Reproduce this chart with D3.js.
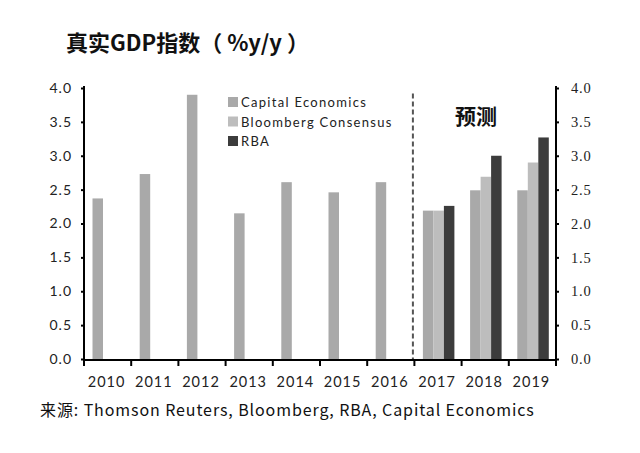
<!DOCTYPE html>
<html><head><meta charset="utf-8">
<script src="https://cdn.jsdelivr.net/npm/d3@7"></script>
<style>body{margin:0;background:#fff}</style>
</head><body>
<svg id="c" width="640" height="453"></svg>
<script>
const years = ["2010","2011","2012","2013","2014","2015","2016","2017","2018","2019"];
const seriesNames = ["Capital Economics","Bloomberg Consensus","RBA"];
const capitalEconomics = [2.37,2.73,3.9,2.15,2.61,2.46,2.61,2.19,2.49,2.49];
const bloomberg = [null,null,null,null,null,null,null,2.19,2.69,2.9];
const rba = [null,null,null,null,null,null,null,2.26,3.0,3.27];
const yTicks = [0,0.5,1,1.5,2,2.5,3,3.5,4];
const colors = ["#a9a9a9","#bdbdbd","#3c3c3c"];

const svg = d3.select("#c");
const L = 84, R = 556, T = 88, B = 359;
const x0 = d3.scaleBand().domain(years).range([L, R]).padding(0);
const x1 = d3.scaleBand().domain([0,1,2]).range([8.5, 40]).padding(0);
const y = d3.scaleLinear().domain([0,4]).range([B, T]);
const sans = "Lato, 'Open Sans', sans-serif";

const data = [capitalEconomics, bloomberg, rba];
years.forEach((yr, i) => {
  data.forEach((s, k) => {
    const v = s[i];
    if (v == null) return;
    svg.append("rect")
      .attr("x", x0(yr) + x1(k)).attr("width", x1.bandwidth())
      .attr("y", y(v)).attr("height", y(0) - y(v))
      .attr("fill", colors[k]);
  });
});

// dashed forecast line
svg.append("line").attr("x1", x0("2017") - 1.5).attr("x2", x0("2017") - 1.5)
  .attr("y1", y(3.92)).attr("y2", y(0))
  .attr("stroke", "#555").attr("stroke-width", 2).attr("stroke-dasharray", "5,3");

// axes
const leftAxis = d3.axisLeft(y).tickValues(yTicks).tickFormat(d3.format(".1f")).tickSize(3).tickPadding(9);
const gl = svg.append("g").attr("transform", `translate(${L},0)`).call(leftAxis);
gl.select(".domain").attr("stroke-width", 2).attr("d", `M0,${T-2}V${B+1}`);
gl.selectAll(".tick line").attr("stroke-width", 2);
gl.selectAll("text").attr("font-family", sans).attr("font-size", 14).attr("letter-spacing", 1).attr("fill", "#222");

const rightAxis = d3.axisRight(y).tickValues(yTicks).tickFormat(d3.format(".1f")).tickSize(3).tickPadding(12);
const gr = svg.append("g").attr("transform", `translate(${R},0)`).call(rightAxis);
gr.select(".domain").attr("stroke-width", 2).attr("d", `M0,${T-2}V${B+1}`);
gr.selectAll(".tick line").attr("stroke-width", 2);
gr.selectAll("text").attr("font-family", "'Liberation Serif', 'DejaVu Serif', serif").attr("font-size", 14.5).attr("letter-spacing", 0.8).attr("fill", "#222");

// bottom axis
svg.append("line").attr("x1", L - 1).attr("x2", R + 1).attr("y1", B + 1).attr("y2", B + 1)
  .attr("stroke", "#000").attr("stroke-width", 2);
const bounds = years.map(d => x0(d)).concat([R]);
svg.selectAll(".bt").data(bounds).enter().append("line")
  .attr("x1", d => d).attr("x2", d => d).attr("y1", B + 1).attr("y2", B + 7)
  .attr("stroke", "#000").attr("stroke-width", 2);
svg.selectAll(".bl").data(years).enter().append("text")
  .attr("x", d => x0(d) + x0.bandwidth() / 2 - 1).attr("y", 387)
  .attr("text-anchor", "middle")
  .attr("font-family", sans).attr("font-size", 14.5).attr("letter-spacing", 1).attr("fill", "#222")
  .text(d => d);

// legend
seriesNames.forEach((n, k) => {
  const ly = 102 + k * 19.5;
  svg.append("rect").attr("x", 228).attr("y", ly - 5).attr("width", 10).attr("height", 10).attr("fill", colors[k]);
  svg.append("text").attr("x", 241).attr("y", ly + 5)
    .attr("font-family", sans).attr("font-size", 13).attr("letter-spacing", 1.3).attr("fill", "#222").text(n);
});

// forecast label
svg.append("text").attr("x", 455).attr("y", 124)
  .attr("font-family", "'Noto Sans CJK SC', sans-serif").attr("font-size", 21).attr("font-weight", "bold").attr("fill", "#111")
  .text("预测");

// title
svg.append("text").attr("x", 66).attr("y", 51)
  .attr("font-family", "'Noto Sans CJK SC', sans-serif").attr("font-size", 22).attr("font-weight", "bold").attr("fill", "#111")
  .text("真实GDP指数（ %y/y ）");

// source
svg.append("text").attr("x", 40).attr("y", 416)
  .attr("font-family", "'Noto Sans CJK SC', Lato, sans-serif").attr("font-size", 16).attr("letter-spacing", 0.9).attr("fill", "#111")
  .text("来源: Thomson Reuters, Bloomberg, RBA, Capital Economics");
</script>
</body></html>
